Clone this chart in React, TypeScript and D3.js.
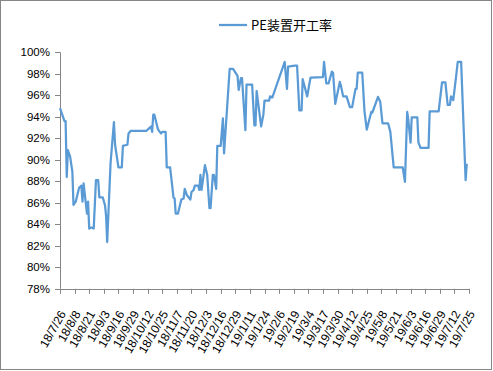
import React from "react";
import * as d3 from "d3";

const seriesName = "PE装置开工率";

const dates: string[] = [
  "2018-07-26","2018-07-30","2018-07-31","2018-08-01","2018-08-02","2018-08-04","2018-08-06","2018-08-07",
  "2018-08-09","2018-08-12","2018-08-14","2018-08-15","2018-08-16","2018-08-19","2018-08-20","2018-08-21",
  "2018-08-23","2018-08-25","2018-08-27","2018-08-29","2018-08-30","2018-09-02","2018-09-04","2018-09-05",
  "2018-09-06","2018-09-09","2018-09-12","2018-09-13","2018-09-16","2018-09-19","2018-09-20","2018-09-24",
  "2018-09-25","2018-09-27","2018-10-11","2018-10-13","2018-10-15","2018-10-16","2018-10-17","2018-10-18",
  "2018-10-21","2018-10-22","2018-10-24","2018-10-25","2018-10-28","2018-10-29","2018-11-01","2018-11-04",
  "2018-11-05","2018-11-06","2018-11-08","2018-11-11","2018-11-13","2018-11-14","2018-11-16","2018-11-19",
  "2018-11-20","2018-11-22","2018-11-23","2018-11-26","2018-11-27","2018-11-28","2018-11-29","2018-12-02",
  "2018-12-04","2018-12-06","2018-12-07","2018-12-09","2018-12-10","2018-12-12","2018-12-13","2018-12-16",
  "2018-12-18","2018-12-19","2018-12-24","2018-12-27","2018-12-31","2019-01-01","2019-01-03","2019-01-04",
  "2019-01-07","2019-01-08","2019-01-13","2019-01-15","2019-01-16","2019-01-17","2019-01-21","2019-01-23",
  "2019-01-24","2019-01-28","2019-01-29","2019-01-31","2019-02-11","2019-02-13","2019-02-14","2019-02-20",
  "2019-02-22","2019-02-24","2019-02-26","2019-02-27","2019-03-03","2019-03-05","2019-03-06","2019-03-17",
  "2019-03-18","2019-03-20","2019-03-22","2019-03-25","2019-03-26","2019-03-28","2019-04-01","2019-04-02",
  "2019-04-04","2019-04-07","2019-04-10","2019-04-12","2019-04-15","2019-04-16","2019-04-17","2019-04-21",
  "2019-04-23","2019-04-25","2019-04-29","2019-04-30","2019-05-05","2019-05-07","2019-05-09","2019-05-14",
  "2019-05-16","2019-05-19","2019-05-27","2019-05-29","2019-05-31","2019-06-01","2019-06-03","2019-06-04",
  "2019-06-09","2019-06-10","2019-06-12","2019-06-19","2019-06-20","2019-06-28","2019-07-01","2019-07-04",
  "2019-07-06","2019-07-08","2019-07-09","2019-07-11","2019-07-13","2019-07-15","2019-07-18","2019-07-22",
  "2019-07-23"
];

const values: number[] = [
  94.8,93.6,93.6,88.4,90.9,90.3,88.9,85.8,
  86.1,87.4,87.6,86.1,87.8,85.0,86.1,83.6,
  83.7,83.6,88.1,88.1,86.5,86.5,85.8,84.8,
  82.35,89.7,93.5,91.4,89.3,89.3,91.3,91.4,
  92.45,92.7,92.7,92.9,93.1,92.6,94.2,94.2,
  92.9,92.7,92.45,92.6,92.6,89.3,89.3,86.5,
  86.4,85.0,85.0,86.3,86.4,87.3,86.7,86.3,
  87.0,87.2,87.6,87.6,87.2,88.6,87.2,89.5,
  88.6,85.5,85.5,88.6,88.6,87.3,91.3,91.3,
  93.85,90.6,98.45,98.45,97.8,96.5,97.6,97.6,
  92.75,97.0,97.0,93.2,93.2,96.4,93.1,94.2,
  95.5,95.5,95.9,95.8,99.1,96.6,98.66,98.75,
  98.75,94.6,94.6,97.5,95.9,97.1,97.65,97.7,
  99.1,97.1,97.1,98.2,98.1,95.2,97.25,96.9,
  95.9,95.9,94.9,94.9,96.6,96.6,98.1,98.1,
  94.5,92.8,94.45,94.4,95.85,95.4,93.4,93.4,
  92.6,89.3,89.3,87.95,94.45,93.7,91.6,93.95,
  93.95,91.6,91.1,91.1,94.5,94.5,97.2,97.2,
  95.1,95.1,95.9,95.55,97.3,99.1,99.1,88.1,
  89.65
];

const xTickLabels: string[] = [
  "18/7/26","18/8/8","18/8/21","18/9/3","18/9/16","18/9/29","18/10/12","18/10/25",
  "18/11/7","18/11/20","18/12/3","18/12/16","18/12/29","19/1/11","19/1/24","19/2/6",
  "19/2/19","19/3/4","19/3/17","19/3/30","19/4/12","19/4/25","19/5/8","19/5/21",
  "19/6/3","19/6/16","19/6/29","19/7/12","19/7/25"
];

const yTicks: number[] = [78, 80, 82, 84, 86, 88, 90, 92, 94, 96, 98, 100];

const W = 493;
const H = 371;
const left = 60;
const right = 469;
const top = 52.3;
const bottom = 288.8;
const lineColor = "#5b9bd5";
const axisColor = "#868686";
const font = "'Liberation Sans', Arial, sans-serif";

export default function App() {
  const parse = d3.timeParse("%Y-%m-%d");
  const parseTick = (s: string) => {
    const [yy, m, d] = s.split("/").map(Number);
    return new Date(2000 + yy, m - 1, d);
  };
  const tickDates = xTickLabels.map(parseTick);
  const x = d3
    .scaleTime()
    .domain([tickDates[0], tickDates[tickDates.length - 1]])
    .range([left, right]);
  const y = d3.scaleLinear().domain([78, 100]).range([bottom, top]);
  const pts = dates.map((d, i) => ({ date: parse(d) as Date, v: values[i] }));
  const line = d3
    .line<{ date: Date; v: number }>()
    .x((d) => x(d.date))
    .y((d) => y(d.v));

  return (
    <svg
      width={W}
      height={H}
      style={{ position: "absolute", left: 0, top: 0, background: "#fff" }}
    >
      <rect x={0.5} y={0.5} width={491} height={369} fill="#fff" stroke={axisColor} strokeWidth={1} />
      {/* legend */}
      <line x1={219} x2={247} y1={25} y2={25} stroke={lineColor} strokeWidth={2.25} />
      <text x={251} y={30} fontSize={13} fontFamily={"'Noto Sans CJK SC', sans-serif"} fill="#000">
        {seriesName}
      </text>
      {/* y axis */}
      <line x1={left + 0.5} x2={left + 0.5} y1={top} y2={bottom} stroke={axisColor} />
      {yTicks.map((t) => (
        <g key={t}>
          <line x1={left - 5} x2={left} y1={Math.round(y(t)) + 0.5} y2={Math.round(y(t)) + 0.5} stroke={axisColor} />
          <text
            x={50}
            y={y(t)}
            textAnchor="end"
            dominantBaseline="central"
            fontSize={11.5}
            fontFamily={font}
            fill="#000"
          >
            {t}%
          </text>
        </g>
      ))}
      {/* x axis */}
      <line x1={left} x2={right} y1={Math.round(bottom) + 0.5} y2={Math.round(bottom) + 0.5} stroke={axisColor} />
      {tickDates.map((d, i) => {
        const tx = Math.round(x(d)) + 0.5;
        return (
          <g key={i}>
            <line x1={tx} x2={tx} y1={bottom} y2={bottom + 5} stroke={axisColor} />
            <text
              transform={`translate(${x(d) + 3},${bottom + 23}) rotate(-60)`}
              textAnchor="end"
              dominantBaseline="central"
              fontSize={12}
              fontFamily={font}
              fill="#000"
            >
              {xTickLabels[i]}
            </text>
          </g>
        );
      })}
      <path d={line(pts) || ""} fill="none" stroke={lineColor} strokeWidth={2.25} strokeLinejoin="round" />
    </svg>
  );
}
